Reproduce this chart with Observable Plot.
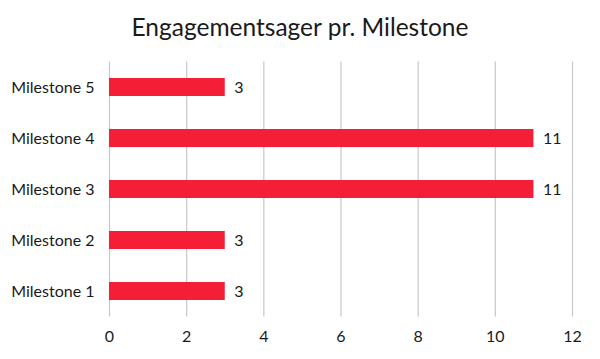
<!DOCTYPE html>
<html>
<head>
<meta charset="utf-8">
<script src="https://cdn.jsdelivr.net/npm/d3@7"></script>
<script src="https://cdn.jsdelivr.net/npm/@observablehq/plot@0.6"></script>
<style>
  html, body { margin: 0; padding: 0; background: #fff; }
  #title { height: 52px; width: 600px; text-align: center; font-family: Lato, "Open Sans", sans-serif; font-size: 24.5px; color: #1a1a1a; line-height: 53px; overflow: hidden; }
</style>
</head>
<body>
<div id="title">Engagementsager pr. Milestone</div>
<div id="chart"></div>
<script>
const categories = ["Milestone 5", "Milestone 4", "Milestone 3", "Milestone 2", "Milestone 1"];
const values = [3, 11, 11, 3, 3];
const xTicks = [0, 2, 4, 6, 8, 10, 12];

const data = categories.map((c, i) => ({category: c, value: values[i]}));

const chart = Plot.plot({
  width: 600,
  height: 307,
  marginTop: 9.5,
  marginBottom: 42.5,
  marginLeft: 109,
  marginRight: 28,
  style: {fontFamily: "Lato, 'Open Sans', sans-serif", fontSize: "16px", color: "#1a1a1a"},
  x: {domain: [0, 12], ticks: xTicks, label: null, tickSize: 0, tickPadding: 14},
  y: {domain: categories, label: null, paddingInner: 0.65, paddingOuter: 0.325, tickSize: 0, tickPadding: 15},
  marks: [
    Plot.gridX(xTicks, {stroke: "#c8c8c8", strokeOpacity: 1, strokeWidth: 1.2}),
    Plot.barX(data, {x: "value", y: "category", fill: "#f41e36"}),
    Plot.text(data, {x: "value", y: "category", text: d => String(d.value), textAnchor: "start", dx: 9, fontSize: 16, fill: "#1a1a1a"}),
    Plot.axisX({ticks: xTicks, tickSize: 0, tickPadding: 14, fontSize: 16, label: null}),
    Plot.axisY({tickSize: 0, tickPadding: 15, fontSize: 16, label: null})
  ]
});
document.getElementById("chart").appendChild(chart);
</script>
</body>
</html>
